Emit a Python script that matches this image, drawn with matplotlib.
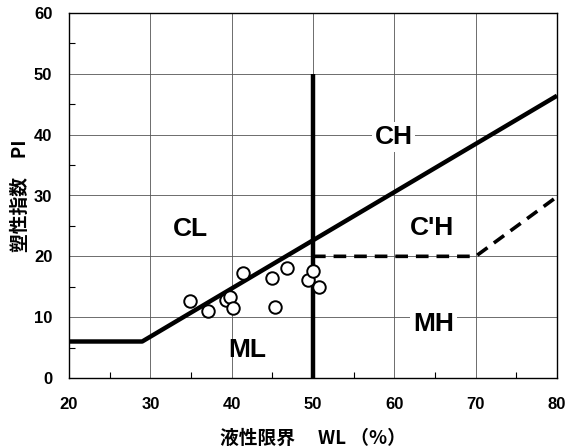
import matplotlib
matplotlib.use("Agg")
import matplotlib.pyplot as plt
from matplotlib.ticker import MultipleLocator

plt.rcParams['font.family'] = ['Liberation Sans', 'Noto Sans CJK JP', 'DejaVu Sans']

# A-line (solid), with the PI=6 shelf at low liquid limits
a_line_wl = [20, 29, 80]
a_line_pi = [6, 6, 46.4]

# B-line at WL=50
b_line_wl = [50, 50]
b_line_pi = [0, 50]

# dashed boundary of the C'H zone
ch_wl = [50, 70, 80]
ch_pi = [20, 20, 29.8]

# measured samples
sample_wl = [34.9, 37.1, 39.3, 39.8, 40.2, 41.4, 45.0, 45.3, 46.8, 49.4, 50.05, 50.75]
sample_pi = [12.7, 11.0, 12.9, 13.3, 11.5, 17.2, 16.4, 11.7, 18.1, 16.1, 17.6, 14.9]

# zone names
zone_names = ["CL", "CH", "C'H", "ML", "MH"]
zone_wl = [34.9, 59.9, 64.6, 41.9, 64.8]
zone_pi = [24.5, 39.6, 24.7, 4.6, 8.9]

x_ticks = [20, 30, 40, 50, 60, 70, 80]
y_ticks = [0, 10, 20, 30, 40, 50, 60]

fig = plt.figure(figsize=(5.65, 4.48), dpi=100)
ax = fig.add_axes([69 / 565, 1 - 378 / 448, (557 - 69) / 565, (378 - 13) / 448])

ax.set_xlim(20, 80)
ax.set_ylim(0, 60)
ax.set_xticks(x_ticks)
ax.set_yticks(y_ticks)
ax.xaxis.set_minor_locator(MultipleLocator(5))
ax.yaxis.set_minor_locator(MultipleLocator(5))
ax.grid(True, which='major', color='#555555', linewidth=0.6)
ax.set_axisbelow(True)
ax.tick_params(which='both', direction='in', length=4, width=0.8, top=False, right=False)
ax.tick_params(which='major', length=0)
ax.tick_params(axis='x', pad=14)
ax.tick_params(axis='y', pad=12)
for lab in ax.get_xticklabels() + ax.get_yticklabels():
    lab.set_fontweight('bold')
    lab.set_fontsize(12)
for s in ax.spines.values():
    s.set_linewidth(1.0)

ax.plot(a_line_wl, a_line_pi, color='black', linewidth=3.2, solid_capstyle='butt', clip_on=False, zorder=3)
ax.plot(b_line_wl, b_line_pi, color='black', linewidth=3.2, solid_capstyle='butt', clip_on=False, zorder=3)
ax.plot(ch_wl, ch_pi, color='black', linewidth=2.6, linestyle=(0, (3.5, 2.2)), zorder=3)

ax.plot(sample_wl, sample_pi, linestyle='none', marker='o', markersize=9,
        markerfacecolor='white', markeredgecolor='black', markeredgewidth=1.4, zorder=4)

for name, x, y in zip(zone_names, zone_wl, zone_pi):
    boxed = name in ("CH", "MH")
    ax.text(x, y, name, fontsize=19, fontweight='bold', ha='center', va='center', zorder=5,
            bbox=dict(facecolor='white', edgecolor='none', pad=2) if boxed else None)

ax.set_xlabel('液性限界　 WL （%）', fontsize=13.5, fontweight='bold', labelpad=12,
              family=['Noto Sans CJK JP', 'DejaVu Sans'])
ax.set_ylabel('塑性指数　PI', fontsize=13.5, fontweight='bold', labelpad=3,
              family=['Noto Sans CJK JP', 'DejaVu Sans'])

fig.savefig('out.png', dpi=100)
